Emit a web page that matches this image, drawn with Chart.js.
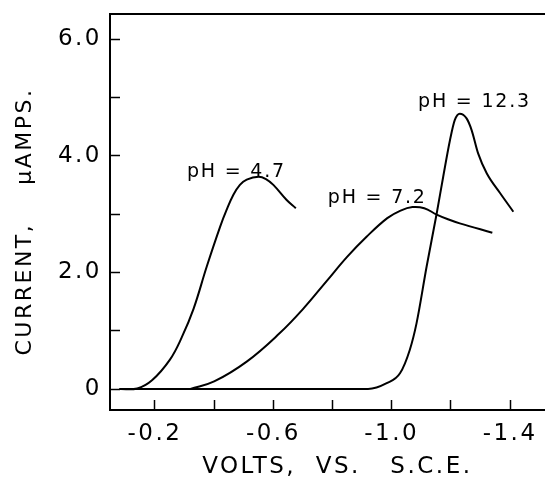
<!DOCTYPE html>
<html>
<head>
<meta charset="utf-8">
<script src="https://cdn.jsdelivr.net/npm/chart.js@4"></script>
<style>
    html, body { margin: 0; padding: 0; background: #fff; }
    #grafico { width: 545px; height: 481px; }
</style>
</head>
<body>
<div id="grafico"><canvas id="curvas"></canvas></div>
<script>
//! datos
var voltsPH47 = [-0.08, -0.14, -0.19, -0.25, -0.29, -0.33, -0.375, -0.42, -0.442, -0.465, -0.487, -0.51, -0.55, -0.575, -0.60, -0.645, -0.676];
var currentPH47 = [0, 0.01, 0.15, 0.50, 0.88, 1.37, 2.10, 2.78, 3.07, 3.33, 3.50, 3.59, 3.64, 3.60, 3.50, 3.24, 3.10];

var voltsPH72 = [-0.32, -0.40, -0.51, -0.62, -0.70, -0.78, -0.85, -0.915, -0.985, -1.03, -1.07, -1.11, -1.152, -1.19, -1.23, -1.34];
var currentPH72 = [0, 0.13, 0.47, 0.95, 1.37, 1.85, 2.27, 2.61, 2.93, 3.06, 3.12, 3.10, 2.99, 2.91, 2.84, 2.68];

var voltsPH123 = [-0.08, -0.50, -0.92, -0.983, -1.028, -1.061, -1.084, -1.118, -1.152, -1.174, -1.197, -1.213, -1.230, -1.253, -1.270, -1.292, -1.321, -1.366, -1.411];
var currentPH123 = [0, 0, 0, 0.10, 0.27, 0.67, 1.13, 2.10, 3.01, 3.64, 4.27, 4.61, 4.72, 4.64, 4.44, 4.04, 3.70, 3.36, 3.04];

var xTicks = [-0.2, -0.4, -0.6, -0.8, -1.0, -1.2, -1.4];
var xTickLabels = ["-0.2", "", "-0.6", "", "-1.0", "", "-1.4"];
var yTicks = [0, 1, 2, 3, 4, 5, 6];
var yTickLabels = ["0", "", "2.0", "", "4.0", "", "6.0"];

var curveNames = ["pH = 4.7", "pH = 7.2", "pH = 12.3"];
var nameVolts = [-0.308, -0.784, -1.089];
var nameCurrent = [3.64, 3.19, 4.84];
//!===========================================================

function puntos(xs, ys) {
    return xs.map(function (x, i) { return { x: x, y: ys[i] }; });
}

var letras = "'DejaVu Sans', sans-serif";

// los titulos y los ticks usan letras espaciadas, como en el dibujo original
var espaciado = {
    id: "espaciado",
    beforeDraw: function (chart) {
        chart.ctx.letterSpacing = "2.5px";
    },
    afterDatasetsDraw: function (chart) {
        var ctx = chart.ctx;
        var sx = chart.scales.x, sy = chart.scales.y;
        ctx.save();
        ctx.letterSpacing = "1.8px";
        ctx.fillStyle = "#000";
        ctx.font = "19px " + letras;
        ctx.textAlign = "left";
        ctx.textBaseline = "alphabetic";
        curveNames.forEach(function (t, i) {
            ctx.fillText(t, sx.getPixelForValue(nameVolts[i]), sy.getPixelForValue(nameCurrent[i]));
        });
        ctx.restore();
    }
};

function sinRelleno(s) {
    s.paddingTop = 0;
    s.paddingBottom = 0;
    s.paddingLeft = 0;
    s.paddingRight = 0;
}

//! grafico
document.addEventListener("DOMContentLoaded", function () {
    var ctx = document.getElementById("curvas").getContext("2d");
    var linea = {
        borderColor: "#000",
        borderWidth: 2,
        pointRadius: 0,
        fill: false,
        tension: 0.4,
    };
    var grafico = new Chart(ctx, {
        type: "line",
        data: {
            datasets: [
                Object.assign({ label: curveNames[0], data: puntos(voltsPH47, currentPH47) }, linea),
                Object.assign({ label: curveNames[1], data: puntos(voltsPH72, currentPH72) }, linea),
                Object.assign({ label: curveNames[2], data: puntos(voltsPH123, currentPH123) }, linea, { cubicInterpolationMode: "monotone" }),
            ],
        },
        options: {
            responsive: true,
            maintainAspectRatio: false,
            animation: false,
            layout: { padding: 0 },
            plugins: {
                legend: { display: false },
                tooltip: { enabled: false },
            },
            scales: {
                x: {
                    type: "linear",
                    reverse: true,
                    min: -1.518,
                    max: -0.048,
                    afterBuildTicks: function (s) { s.ticks = xTicks.map(function (v) { return { value: v }; }); },
                    afterFit: function (s) { s.height = 71; sinRelleno(s); },
                    ticks: {
                        padding: 20,
                        color: "#000",
                        font: { family: letras, size: 23 },
                        maxRotation: 0,
                        autoSkip: false,
                        callback: function (v, i) { return xTickLabels[i]; },
                    },
                    grid: { drawOnChartArea: false, tickLength: -10, tickWidth: 1.5, tickColor: "#000" },
                    border: { color: "#000", width: 2 },
                    title: {
                        display: true,
                        text: "  VOLTS,  VS.   S.C.E.",
                        color: "#000",
                        font: { family: letras, size: 23 },
                        padding: { top: 0, bottom: 0 },
                    },
                },
                x2: {
                    type: "linear",
                    position: "top",
                    min: -1.518,
                    max: -0.048,
                    reverse: true,
                    afterFit: function (s) { s.height = 14; sinRelleno(s); },
                    ticks: { display: false },
                    grid: { drawOnChartArea: false, drawTicks: false },
                    border: { color: "#000", width: 2 },
                },
                y: {
                    type: "linear",
                    min: -0.36,
                    max: 6.43,
                    afterBuildTicks: function (s) { s.ticks = yTicks.map(function (v) { return { value: v }; }); },
                    afterFit: function (s) { s.width = 110; sinRelleno(s); },
                    ticks: {
                        padding: 18,
                        color: "#000",
                        font: { family: letras, size: 23 },
                        autoSkip: false,
                        callback: function (v, i) { return yTickLabels[i]; },
                    },
                    grid: { drawOnChartArea: false, tickLength: -10, tickWidth: 1.5, tickColor: "#000" },
                    border: { color: "#000", width: 2 },
                    title: {
                        display: true,
                        text: "CURRENT,    \u03bcAMPS.  ",
                        color: "#000",
                        font: { family: letras, size: 22 },
                        padding: { top: 12, bottom: 0 },
                    },
                },
            },
        },
        plugins: [espaciado],
    });
});
</script>
</body>
</html>
